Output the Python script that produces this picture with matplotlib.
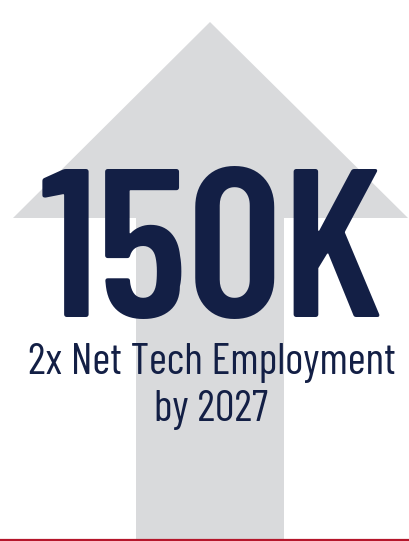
import matplotlib
matplotlib.use("Agg")
import matplotlib.pyplot as plt
from matplotlib.patches import Polygon

# content
headline = "150K"
subtitle_lines = ["2x Net Tech Employment", "by 2027"]

# colours
navy = "#131f45"
arrow_grey = "#d9dadc"
red = "#b5162b"

W, H = 409, 541

fig = plt.figure(figsize=(W / 100, H / 100), dpi=100)
ax = fig.add_axes([0, 0, 1, 1])
ax.set_xlim(0, W)
ax.set_ylim(H, 0)
ax.axis("off")

# arrow: head + shaft
tip_x, tip_y = 210, 22
head_y, head_l, head_r = 218, 13, 408
shaft_l, shaft_r = 136, 284
arrow = Polygon([(tip_x, tip_y), (head_r, head_y), (shaft_r, head_y), (shaft_r, H),
                 (shaft_l, H), (shaft_l, head_y), (head_l, head_y)],
                closed=True, facecolor=arrow_grey, edgecolor="none")
ax.add_patch(arrow)

# red rule at the bottom
ax.axhline(H - 1.5, color=red, lw=1.6)

ax.text(212, 317, headline, family="Barlow Condensed", weight=600,
        fontsize=152, color=navy, ha="center", va="baseline")

ax.text(212, 374, subtitle_lines[0], family="Barlow Condensed", weight=400,
        fontsize=31.5, color=navy, ha="center", va="baseline")
ax.text(211, 421, subtitle_lines[1], family="Barlow Condensed", weight=400,
        fontsize=31.5, color=navy, ha="center", va="baseline")

fig.savefig("out.png", dpi=100)
